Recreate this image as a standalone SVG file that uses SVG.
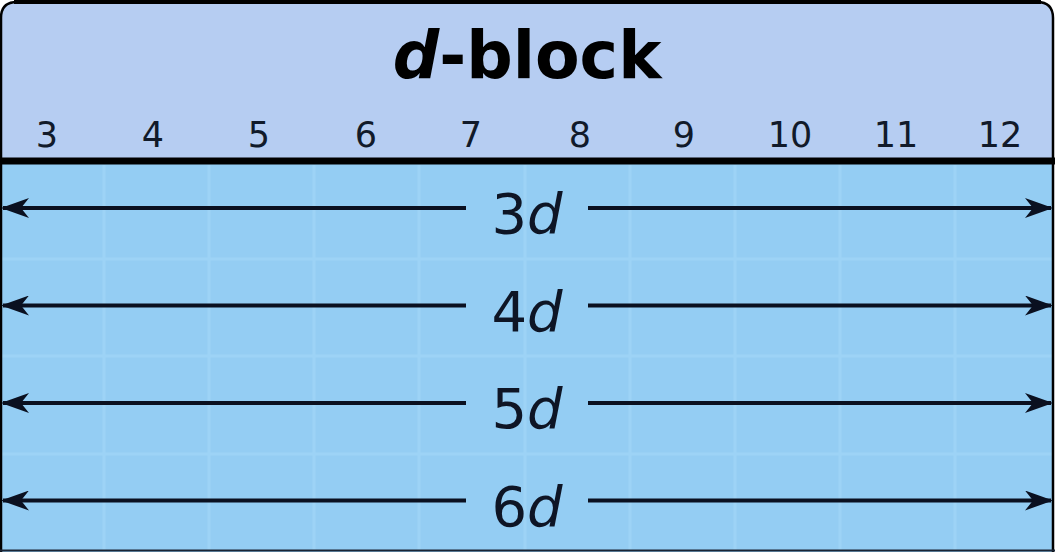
<svg xmlns="http://www.w3.org/2000/svg" width="1055" height="552" viewBox="0 0 1055 552">
<style>
.num{font-family:"DejaVu Sans",sans-serif;font-size:35px;fill:#111a2a;text-anchor:middle}
.lbl{font-family:"DejaVu Sans",sans-serif;font-size:56px;fill:#0e1525;text-anchor:middle}
.ttl{font-family:"DejaVu Sans",sans-serif;font-size:65px;font-weight:bold;fill:#000;text-anchor:middle}
.arr{stroke:#0a1020;stroke-width:4;fill:none}
.grid{stroke:#9dd3f6;stroke-width:3}
</style>
<defs>
<marker id="ah" viewBox="0 0 14 10" refX="13" refY="5" markerWidth="7" markerHeight="5" markerUnits="strokeWidth" orient="auto-start-reverse">
<path d="M0,0 L14,5 L0,10 L4,5 Z" fill="#0a1020"/>
</marker>
</defs>
<g id="block">
<path d="M1,552 V18 Q1,2 17,2 H1037 Q1053,2 1053,18 V552 Z" fill="#94cdf3"/>
<path d="M1,161 V18 Q1,2 17,2 H1037 Q1053,2 1053,18 V161 Z" fill="#b6cdf2"/>
<g id="grid">
<line class="grid" x1="104" y1="165" x2="104" y2="550"/>
<line class="grid" x1="209" y1="165" x2="209" y2="550"/>
<line class="grid" x1="314" y1="165" x2="314" y2="550"/>
<line class="grid" x1="419" y1="165" x2="419" y2="550"/>
<line class="grid" x1="525" y1="165" x2="525" y2="550"/>
<line class="grid" x1="630" y1="165" x2="630" y2="550"/>
<line class="grid" x1="735" y1="165" x2="735" y2="550"/>
<line class="grid" x1="840" y1="165" x2="840" y2="550"/>
<line class="grid" x1="955" y1="165" x2="955" y2="550"/>
<line class="grid" x1="2" y1="259" x2="1052" y2="259"/>
<line class="grid" x1="2" y1="356" x2="1052" y2="356"/>
<line class="grid" x1="2" y1="454" x2="1052" y2="454"/>
</g>
<path d="M1,552 V18 Q1,2 17,2 H1037 Q1053,2 1053,18 V552" fill="none" stroke="#000" stroke-width="2.5"/>
<line x1="14" y1="2" x2="1041" y2="2" stroke="#000" stroke-width="4"/>
<line x1="0" y1="161" x2="1055" y2="161" stroke="#000" stroke-width="7"/>
<line x1="0" y1="550.5" x2="1055" y2="550.5" stroke="#1a2535" stroke-width="2"/>
</g>
<g id="title">
<text class="ttl" x="527" y="78"><tspan font-style="italic">d</tspan>-block</text>
</g>
<g id="groups">
<text class="num" x="47" y="147">3</text>
<text class="num" x="153" y="147">4</text>
<text class="num" x="259" y="147">5</text>
<text class="num" x="366" y="147">6</text>
<text class="num" x="471" y="147">7</text>
<text class="num" x="580" y="147">8</text>
<text class="num" x="684" y="147">9</text>
<text class="num" x="790" y="147">10</text>
<text class="num" x="896" y="147">11</text>
<text class="num" x="1000" y="147">12</text>
</g>
<g id="connectors">
<line class="arr" x1="466" y1="208" x2="3" y2="208" marker-end="url(#ah)"/>
<line class="arr" x1="588" y1="208" x2="1051" y2="208" marker-end="url(#ah)"/>
<line class="arr" x1="466" y1="305.5" x2="3" y2="305.5" marker-end="url(#ah)"/>
<line class="arr" x1="588" y1="305.5" x2="1051" y2="305.5" marker-end="url(#ah)"/>
<line class="arr" x1="466" y1="403" x2="3" y2="403" marker-end="url(#ah)"/>
<line class="arr" x1="588" y1="403" x2="1051" y2="403" marker-end="url(#ah)"/>
<line class="arr" x1="466" y1="500.5" x2="3" y2="500.5" marker-end="url(#ah)"/>
<line class="arr" x1="588" y1="500.5" x2="1051" y2="500.5" marker-end="url(#ah)"/>
</g>
<g id="row3d"><text class="lbl" x="527" y="233">3<tspan font-style="italic">d</tspan></text></g>
<g id="row4d"><text class="lbl" x="527" y="330.5">4<tspan font-style="italic">d</tspan></text></g>
<g id="row5d"><text class="lbl" x="527" y="428">5<tspan font-style="italic">d</tspan></text></g>
<g id="row6d"><text class="lbl" x="527" y="525.5">6<tspan font-style="italic">d</tspan></text></g>
</svg>
